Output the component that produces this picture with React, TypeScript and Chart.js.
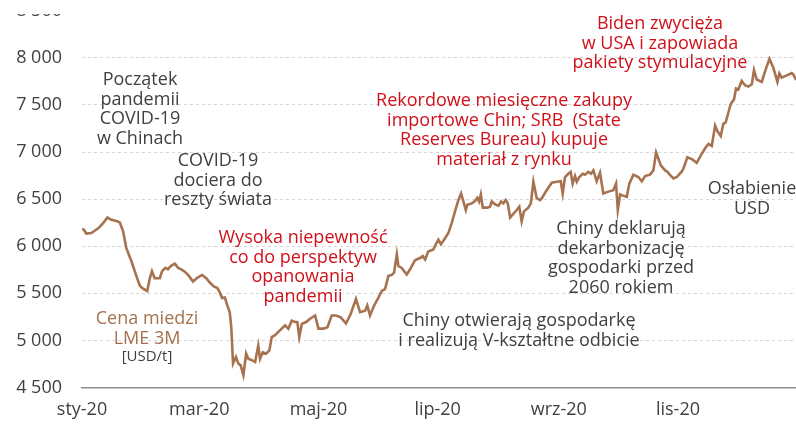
import React, { useEffect, useRef } from 'react';
import { Chart, registerables } from 'chart.js';

Chart.register(...registerables);

// Day of year 2020 (1 = 1 Jan)
const dayIndex = [
  1, 2, 3.2, 5.8, 7.5, 9.6, 11.8, 14, 16, 18.1, 20.3, 22, 23.7, 26.3, 28.8, 30.6, 32.2, 34.4, 35.7, 36.8,
  38.2, 40.8, 42, 43.7, 45, 46.4, 48.5, 50.2, 51.8, 53.6, 55.3, 57.8, 60, 62.4, 64.6, 66.4, 68.6, 70.3, 71.5, 72.7,
  74.1, 75.4, 76.6, 77.4, 78.3,
  79.8, 81, 82.2, 83.6, 85, 86.1, 87.9, 89.6, 91.2, 92.1, 93.5, 95.2, 96.9, 98.1, 99.8, 101.5, 103.2, 104.9, 106.6, 108.3,
  110, 111.2, 112.2, 113.5, 115.7, 117.7, 120.3, 122, 124.5, 126.6, 128.8, 131, 133.4, 136.1, 138.5, 141.2, 143.3, 145.9, 147, 148.4,
  150.5, 152.7, 154.4, 156.1, 157.8,
  159.5, 160.7, 162.1, 162.9, 164.6, 167.2, 168.9, 171.4, 174, 175.4, 176.6, 178.2, 180.8, 182.2, 183.4, 184.7, 186.8, 188.5, 190.2, 191.9,
  193.6, 195, 196.2, 197.4, 198.2, 200.5, 202.1, 203.3, 204.2, 205.1, 206.1, 208.4, 209.8, 210.7, 212.4, 214.1, 215.5, 216.6, 217.9, 218.9,
  220.1, 221.4, 223.5, 224.8, 226, 227.2, 229.4, 230.7, 232, 233.7, 235.4,
  236.3, 238.8, 241.4, 243.9, 246, 247, 248.2, 249.9, 251.1, 252.1, 253.3, 254.2, 255.5, 257.3, 258.4, 260.1, 261.5, 262.7, 264.4, 266.1,
  267.8, 270.4, 272.9, 274.3, 275.2, 276.4, 278.1, 279.8, 281.1, 283.2, 285.7, 287.5, 289.2, 291.7, 293.4, 294.8, 297.2, 299.4, 300.6, 302,
  303.7, 305.4, 308,
  308.8, 310.8, 313.1, 315.6, 317.7, 319.9, 321.6, 323.3, 325, 326.2, 327.9, 329.2, 330.4, 331.8, 333, 334.7, 335.7, 336.9, 338.6, 340.3,
  342, 343.8, 344.9, 346.3, 348.9, 350.6, 352.8, 354.8, 356.9, 357.9, 359.1, 361.7, 364.2, 365, 366.4,
];

// LME 3M copper price [USD/t]
const prices = [
  6185, 6175, 6135, 6140, 6165, 6195, 6245, 6305, 6280, 6270, 6255, 6160, 5980, 5840, 5685, 5580, 5550, 5525, 5660, 5735,
  5660, 5660, 5735, 5770, 5755, 5790, 5815, 5770, 5755, 5730, 5695, 5625, 5665, 5695, 5660, 5615, 5570, 5555, 5510, 5450,
  5455, 5370, 5300, 5140, 4755,
  4825, 4755, 4735, 4630, 4860, 4805, 4790, 4770, 4945, 4805, 4875, 4860, 4895, 5035, 5055, 5090, 5125, 5160, 5125, 5210,
  5195, 5195, 5035, 5175, 5195, 5230, 5265, 5125, 5125, 5140, 5265, 5265, 5245, 5180, 5280, 5440, 5300, 5315, 5370, 5265,
  5370, 5455, 5525, 5545, 5685,
  5695, 5720, 5915, 5790, 5770, 5700, 5755, 5850, 5875, 5895, 5860, 5945, 5965, 6025, 6070, 6020, 6085, 6140, 6245, 6370,
  6490, 6560, 6475, 6385, 6440, 6455, 6480, 6515, 6475, 6550, 6410, 6410, 6420, 6475, 6445, 6430, 6475, 6455, 6490, 6455,
  6305, 6335, 6385, 6420, 6265, 6370, 6410, 6455, 6685, 6510, 6490,
  6510, 6595, 6675, 6685, 6690, 6560, 6735, 6770, 6790, 6665, 6745, 6685, 6735, 6770, 6760, 6790, 6770, 6805, 6690, 6780,
  6560, 6580, 6595, 6665, 6385, 6550, 6535, 6525, 6665, 6760, 6735, 6690, 6745, 6760, 6805, 6995, 6860, 6805, 6790, 6755,
  6720, 6735, 6795,
  6825, 6945, 6925, 6885, 6965, 7040, 7085, 7065, 7280, 7220, 7170, 7300, 7315, 7420, 7510, 7560, 7675, 7665, 7755, 7710,
  7695, 7720, 7870, 7770, 7745, 7860, 7990, 7895, 7745, 7835, 7790, 7815, 7840, 7825, 7765,
];

const tickDays = [1, 61, 122, 183, 245, 306];
const tickLabels = ['sty-20', 'mar-20', 'maj-20', 'lip-20', 'wrz-20', 'lis-20'];
const yTickValues = [4500, 5000, 5500, 6000, 6500, 7000, 7500, 8000, 8500];

const GRAY = '#404040';
const RED = '#d0101a';
const BROWN = '#a6714e';
const LINE = '#a6724f';
const FONT = '"Open Sans", sans-serif';

const OFFSET = 20; // canvas is shifted up by this many px (top of chart is cropped)

const notes = [
  { lines: ['Początek', 'pandemii', 'COVID-19', 'w Chinach'], color: GRAY, x: 140, y: 80, size: 18 },
  { lines: ['COVID-19', 'dociera do', 'reszty świata'], color: GRAY, x: 218, y: 161, size: 18 },
  { lines: ['Wysoka niepewność', 'co do perspektyw', 'opanowania', 'pandemii'], color: RED, x: 303, y: 238, size: 18 },
  { lines: ['Cena miedzi', 'LME 3M'], color: BROWN, x: 147, y: 319, size: 18 },
  { lines: ['[USD/t]'], color: GRAY, x: 147, y: 357, size: 15 },
  { lines: ['Rekordowe miesięczne zakupy', 'importowe Chin; SRB  (State', 'Reserves Bureau) kupuje', 'materiał z rynku'], color: RED, x: 504, y: 101, size: 18 },
  { lines: ['Chiny otwierają gospodarkę', 'i realizują V-kształtne odbicie'], color: GRAY, x: 519, y: 321, size: 18 },
  { lines: ['Chiny deklarują', 'dekarbonizację', 'gospodarki przed', '2060 rokiem'], color: GRAY, x: 621, y: 229, size: 18 },
  { lines: ['Biden zwycięża', 'w USA i zapowiada', 'pakiety stymulacyjne'], color: RED, x: 660, y: 24, size: 18 },
  { lines: ['Osłabienie', 'USD'], color: GRAY, x: 752, y: 189, size: 18 },
];

const LINE_H = 19.5;

const notesPlugin = {
  id: 'notes',
  afterDraw(chart: any) {
    const ctx = chart.ctx as CanvasRenderingContext2D;
    ctx.save();
    // cropped top edge of the original picture
    ctx.fillStyle = '#ffffff';
    ctx.fillRect(0, 0, chart.width, 14 + OFFSET);
    ctx.textAlign = 'center';
    ctx.textBaseline = 'middle';
    for (const n of notes) {
      ctx.fillStyle = n.color;
      ctx.font = `${n.size}px ${FONT}`;
      n.lines.forEach((t, i) => ctx.fillText(t, n.x, n.y + OFFSET + i * LINE_H));
    }
    ctx.restore();
  },
};

const fmt = (v: number) => {
  const s = String(Math.round(v));
  return s.length > 3 ? s.slice(0, s.length - 3) + ' ' + s.slice(-3) : s;
};

export default function App() {
  const ref = useRef<HTMLCanvasElement>(null);
  useEffect(() => {
    const canvas = ref.current!;
    const chart = new Chart(canvas, {
      type: 'line',
      data: {
        datasets: [
          {
            data: dayIndex.map((d, i) => ({ x: d, y: prices[i] })),
            borderColor: LINE,
            borderWidth: 2.6,
            pointRadius: 0,
            tension: 0,
            fill: false,
          },
        ],
      },
      options: {
        animation: false,
        responsive: false,
        maintainAspectRatio: false,
        layout: { padding: { top: 7.5 + OFFSET, left: 0, right: 0, bottom: 0 } },
        plugins: { legend: { display: false }, tooltip: { enabled: false } },
        scales: {
          x: {
            type: 'linear',
            min: 1,
            max: 366.4,
            grid: { display: false, drawTicks: false },
            border: { display: true, color: '#8c8c8c', width: 1.5 },
            ticks: {
              font: { family: FONT, size: 18 },
              color: GRAY,
              padding: 12,
              maxRotation: 0,
              autoSkip: false,
              callback: (v: any) => {
                const i = tickDays.indexOf(Number(v));
                return i >= 0 ? tickLabels[i] : '';
              },
            },
            afterBuildTicks: (s: any) => {
              s.ticks = tickDays.map((v) => ({ value: v }));
            },
            afterFit: (s: any) => {
              s.height = 444 - (387.5 + OFFSET);
            },
          },
          y: {
            min: 4500,
            max: 8500,
            grid: { color: '#d6d6d6', lineWidth: 1, drawTicks: false },
            border: { display: false, dash: [3, 3] },
            ticks: {
              font: { family: FONT, size: 18 },
              color: GRAY,
              padding: 20,
              callback: (v: any) => fmt(Number(v)),
            },
            afterBuildTicks: (s: any) => {
              s.ticks = yTickValues.map((v) => ({ value: v }));
            },
            afterFit: (s: any) => {
              s.width = 82;
            },
          },
        },
      },
      plugins: [notesPlugin],
    });
    return () => chart.destroy();
  }, []);

  return (
    <div style={{ position: 'fixed', left: 0, top: -OFFSET, width: 796, height: 444, background: '#fff' }}>
      <canvas ref={ref} width={796} height={444} style={{ width: 796, height: 444, display: 'block' }} />
    </div>
  );
}
